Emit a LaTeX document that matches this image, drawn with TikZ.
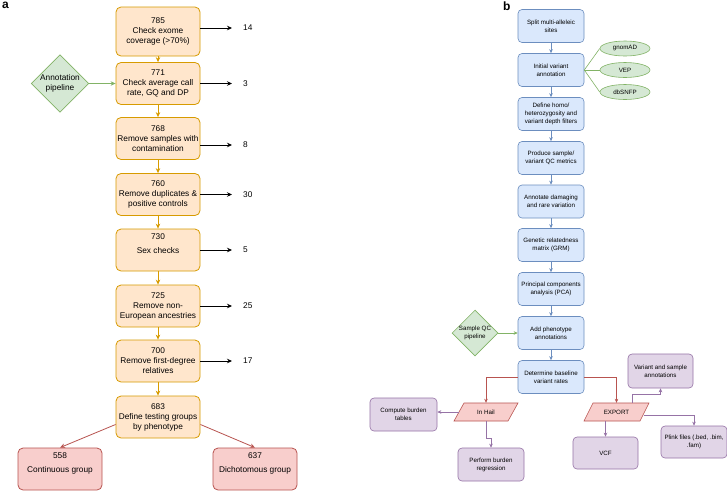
\documentclass[tikz,border=0pt]{standalone}
\usepackage{fontspec}
\setmainfont{Liberation Sans}
\usetikzlibrary{shapes.geometric,arrows.meta,calc}
\definecolor{orfill}{HTML}{FFE6CC}
\definecolor{orline}{HTML}{D79B00}
\definecolor{rdfill}{HTML}{F8CECC}
\definecolor{rdline}{HTML}{B85450}
\definecolor{grfill}{HTML}{D5E8D4}
\definecolor{grline}{HTML}{82B366}
\definecolor{blfill}{HTML}{DAE8FC}
\definecolor{blline}{HTML}{6C8EBF}
\definecolor{pufill}{HTML}{E1D5E7}
\definecolor{puline}{HTML}{9673A6}
\begin{document}
\begin{tikzpicture}[x=1pt,y=-1pt,
  afont/.style={font=\fontsize{8.3}{10}\selectfont},
  bfont/.style={font=\fontsize{6.2}{8}\selectfont},
  abox/.style={afont,draw=orline,fill=orfill,rounded corners=5pt,minimum width=84pt,minimum height=42pt,align=center,inner sep=1pt,line width=0.8pt},
  cbox/.style={abox,draw=rdline,fill=rdfill},
  bbox/.style={bfont,draw=blline,fill=blfill,rounded corners=4pt,minimum width=66pt,minimum height=33pt,align=center,inner sep=1pt,line width=0.6pt},
  pbox/.style={bbox,draw=puline,fill=pufill},
  ell/.style={bfont,ellipse,draw=grline,fill=grfill,minimum width=50pt,minimum height=15pt,inner sep=0pt,line width=0.6pt},
  dia/.style={diamond,draw=grline,fill=grfill,align=center,inner sep=0pt,line width=0.7pt},
  para/.style={draw=rdline,fill=rdfill,line width=0.6pt},
  ptext/.style={bfont,minimum width=54pt,minimum height=18pt,inner sep=0pt},
  oarr/.style={draw=orline,line width=0.8pt,-{Stealth[length=5pt,width=4.5pt]}},
  karr/.style={draw=black,line width=0.8pt,-{Stealth[length=5pt,width=4.5pt]}},
  rarr/.style={draw=rdline,line width=0.8pt,-{Stealth[length=5pt,width=4.5pt]}},
  garr/.style={draw=grline,line width=0.8pt,-{Stealth[length=5pt,width=4.5pt]}},
  barr/.style={draw=blline,line width=0.6pt,-{Stealth[length=4pt,width=3.5pt]}},
  rbarr/.style={draw=rdline,line width=0.6pt,-{Stealth[length=4pt,width=3.5pt]}},
  gbarr/.style={draw=grline,line width=0.6pt,-{Stealth[length=4pt,width=3.5pt]}},
  parr/.style={draw=puline,line width=0.6pt,-{Stealth[length=4pt,width=3.5pt]}},
  gline/.style={draw=grline,line width=0.6pt},
  num/.style={afont,anchor=west,inner sep=2pt}
]
\useasboundingbox[fill=white] (0,0) rectangle (727,491);

% panel labels
\node[font=\fontsize{12}{12}\selectfont\bfseries,anchor=north west,inner sep=0pt] (la) at (2,2) {a};
\node[font=\fontsize{12}{12}\selectfont\bfseries,anchor=north west,inner sep=0pt] (lb) at (503,2) {b};

% ---------- panel a ----------
\node[abox,minimum height=49pt] (a1) at (158,31.5) {785\\Check exome\\coverage (>70\%)};
\node[abox] (a2) at (158,83.5) {771\\Check average call\\rate, GQ and DP};
\node[abox] (a3) at (158,138.5) {768\\Remove samples with\\contamination};
\node[abox] (a4) at (158,194.5) {760\\Remove duplicates \&\\positive controls};
\node[abox] (a5) at (158,250) {730\\[4pt]Sex checks\\[0pt]\strut};
\node[abox] (a6) at (158,306) {725\\Remove non-\\European ancestries};
\node[abox] (a7) at (158,361) {700\\Remove first-degree\\relatives};
\node[abox] (a8) at (158,417) {683\\Define testing groups\\by phenotype};
\node[cbox] (c1) at (60,469) {558\\[4pt]Continuous group\\[0pt]\strut};
\node[cbox] (c2) at (255,469) {637\\[4pt]Dichotomous group\\[0pt]\strut};
\node[dia,afont,minimum width=56pt,minimum height=55pt] (ap) at (60,83.5) {Annotation\\pipeline};

\node[num] (n1) at (241,28) {14};
\node[num] (n2) at (241,83.5) {3};
\node[num] (n3) at (241,145) {8};
\node[num] (n4) at (241,194.5) {30};
\node[num] (n5) at (241,250) {5};
\node[num] (n6) at (241,306) {25};
\node[num] (n7) at (241,361) {17};

\foreach \i in {1,...,7}{
  \draw[karr,shorten >=9pt] (a1.east |- n\i) -- (n\i.west);
}
\draw[oarr] (a1) -- (a2);
\draw[oarr] (a2) -- (a3);
\draw[oarr] (a3) -- (a4);
\draw[oarr] (a4) -- (a5);
\draw[oarr] (a5) -- (a6);
\draw[oarr] (a6) -- (a7);
\draw[oarr] (a7) -- (a8);
\draw[garr] (ap.east) -- (a2.west);
\draw[rarr] (a8.190) -- (c1.north);
\draw[rarr] (a8.-10) -- (c2.north);

% ---------- panel b ----------
\node[bbox] (b1) at (551,26) {Split multi-alleleic\\sites};
\node[bbox] (b2) at (551,70) {Initial variant\\annotation};
\node[bbox] (b3) at (551,114) {Define homo/\\heterozygosity and\\variant depth filters};
\node[bbox] (b4) at (551,158) {Produce sample/\\variant QC metrics};
\node[bbox] (b5) at (551,201.5) {Annotate damaging\\and rare variation};
\node[bbox] (b6) at (551,245) {Genetic relatedness\\matrix (GRM)};
\node[bbox] (b7) at (551,289) {Principal components\\analysis (PCA)};
\node[bbox] (b8) at (551,333) {Add phenotype\\annotations};
\node[bbox] (b9) at (551,377) {Determine baseline\\variant rates};

\node[ell] (e1) at (625,48.5) {gnomAD};
\node[ell] (e2) at (625,70) {VEP};
\node[ell] (e3) at (625,92) {dbSNFP};

\node[dia,bfont,minimum width=44pt,minimum height=44pt] (sq) at (475,333) {Sample QC\\pipeline};

% parallelograms
\draw[para] (454,421) -- (464,403) -- (518,403) -- (508,421) -- cycle;
\node[ptext] (hail) at (486,412) {In Hail};
\draw[para] (584,421) -- (593,403) -- (649,403) -- (640,421) -- cycle;
\node[ptext] (export) at (616.5,412) {EXPORT};

\node[pbox,minimum width=67pt] (p1) at (403.5,414.5) {Compute burden\\tables};
\node[pbox] (p2) at (491,464.5) {Perform burden\\regression};
\node[pbox,minimum width=65pt,minimum height=32pt] (p3) at (605.5,453) {VCF};
\node[pbox,minimum height=32pt] (p4) at (694,442) {Plink files (.bed, .bim,\\.fam)};
\node[pbox,minimum width=65pt,minimum height=34pt] (p5) at (660.5,371) {Variant and sample\\annotations};

\draw[barr] (b1) -- (b2);
\draw[barr] (b2) -- (b3);
\draw[barr] (b3) -- (b4);
\draw[barr] (b4) -- (b5);
\draw[barr] (b5) -- (b6);
\draw[barr] (b6) -- (b7);
\draw[barr] (b7) -- (b8);
\draw[barr] (b8) -- (b9);
\draw[gline] (b2.east) -- (e1.west);
\draw[gline] (b2.east) -- (e2.west);
\draw[gline] (b2.east) -- (e3.west);
\draw[gbarr] (sq.east) -- (b8.west);

\draw[rbarr] (b9.west) -| (hail.north);
\draw[rbarr] (b9.east) -| (export.north);

\draw[parr] (hail.west) -- (p1.east |- hail.west);
\draw[parr] (hail.south) -- ++(0,17) -| (p2.north);
\draw[parr] ($(export.north)+(16,0)$) -- ++(0,-9) -| (p5.south);
\draw[parr] (p3.north |- export.south) -- (p3.north);
\draw[parr] ($(export.east)+(0,3)$) -| (p4.north);
\end{tikzpicture}
\end{document}
